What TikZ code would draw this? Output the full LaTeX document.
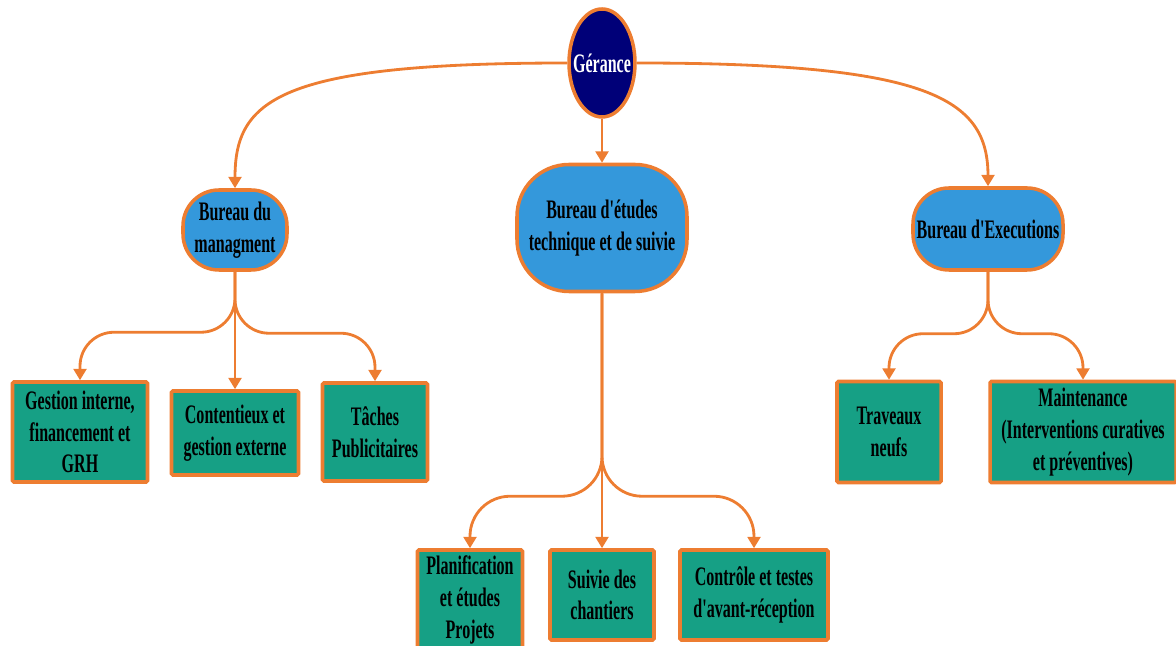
\documentclass[tikz,border=0pt]{standalone}
\usepackage{fontspec}
\setmainfont{Liberation Serif}[FakeStretch=0.6, Ligatures=TeXOff]
\usetikzlibrary{shapes.geometric,arrows.meta}
\definecolor{orgline}{RGB}{237,125,49}
\definecolor{orgblue}{RGB}{52,152,219}
\definecolor{orgnavy}{RGB}{0,0,120}
\definecolor{orggreen}{RGB}{22,160,133}
\begin{document}
\begin{tikzpicture}[
  txt/.style={font=\bfseries\fontsize{19}{22.5}\selectfont, align=center, inner sep=1pt},
  head/.style={ellipse, draw=orgline, line width=2.5pt, fill=orgnavy, inner sep=0pt,
    minimum width=1.65cm, minimum height=2.7cm},
  bureau/.style={txt, draw=orgline, line width=2.5pt, fill=orgblue, rounded corners=0.9cm},
  tache/.style={txt, draw=orgline, line width=2.5pt, fill=orggreen, rounded corners=1pt},
  link/.style={draw=orgline, line width=2pt, -{Triangle[length=8pt,width=9pt]}}
]
\useasboundingbox (0,0) rectangle (29.4,-16.15);

% top level
\node[head, label={[txt, white]center:Gérance}] (ger) at (15.05,-1.575) {};

% bureaux
\node[bureau, minimum width=2.6cm, minimum height=2.0cm] (bman) at (5.875,-5.75) {Bureau du\\managment};
\node[bureau, minimum width=4.25cm, minimum height=3.175cm, rounded corners=1.3cm] (bet) at (15.05,-5.7) {Bureau d'études\\technique et de suivie};
\node[bureau, minimum width=3.75cm, minimum height=2.05cm] (bexe) at (24.7,-5.725) {Bureau d'Executions};

% taches
\node[tache, minimum width=3.375cm, minimum height=2.5cm] (gest) at (2.0,-10.8) {Gestion interne,\\financement et\\GRH};
\node[tache, minimum width=3.175cm, minimum height=2.1cm] (cont) at (5.875,-10.825) {Contentieux et\\gestion externe};
\node[tache, minimum width=2.625cm, minimum height=2.45cm] (tach) at (9.375,-10.8) {Tâches\\Publicitaires};
\node[tache, minimum width=2.625cm, minimum height=2.5cm] (plan) at (11.75,-15.0) {Planification\\et études\\Projets};
\node[tache, minimum width=2.6cm, minimum height=2.25cm] (suiv) at (15.05,-14.875) {Suivie des\\chantiers};
\node[tache, minimum width=3.7cm, minimum height=2.25cm] (ctrl) at (18.85,-14.875) {Contrôle et testes\\d'avant-réception};
\node[tache, minimum width=2.6cm, minimum height=2.525cm] (trav) at (22.225,-10.8) {Traveaux\\neufs};
\node[tache, minimum width=4.65cm, minimum height=2.525cm] (maint) at (27.075,-10.8) {Maintenance\\(Interventions curatives\\et préventives)};

\draw[link] (ger.west) .. controls +(-7.25,0) and +(0,2.2) .. (bman.north);
\draw[link] (ger.east) .. controls +(7.3,0) and +(0,2.2) .. (bexe.north);
\draw[link] (ger) -- (bet);
\draw[link] (bman) -- (cont);
\draw[link] (bet) -- (suiv);

\foreach \a/\b/\h/\r in {bman/gest/1.2/0.85, bman/tach/1.2/0.85, bet/plan/1.3/1.0,
    bet/ctrl/1.3/1.0, bexe/trav/1.15/0.85, bexe/maint/1.15/0.85}
  \draw[link, rounded corners=\r cm] (\a.south) |- ([yshift=\h cm]\b.north) -- (\b.north);
\end{tikzpicture}
\end{document}
